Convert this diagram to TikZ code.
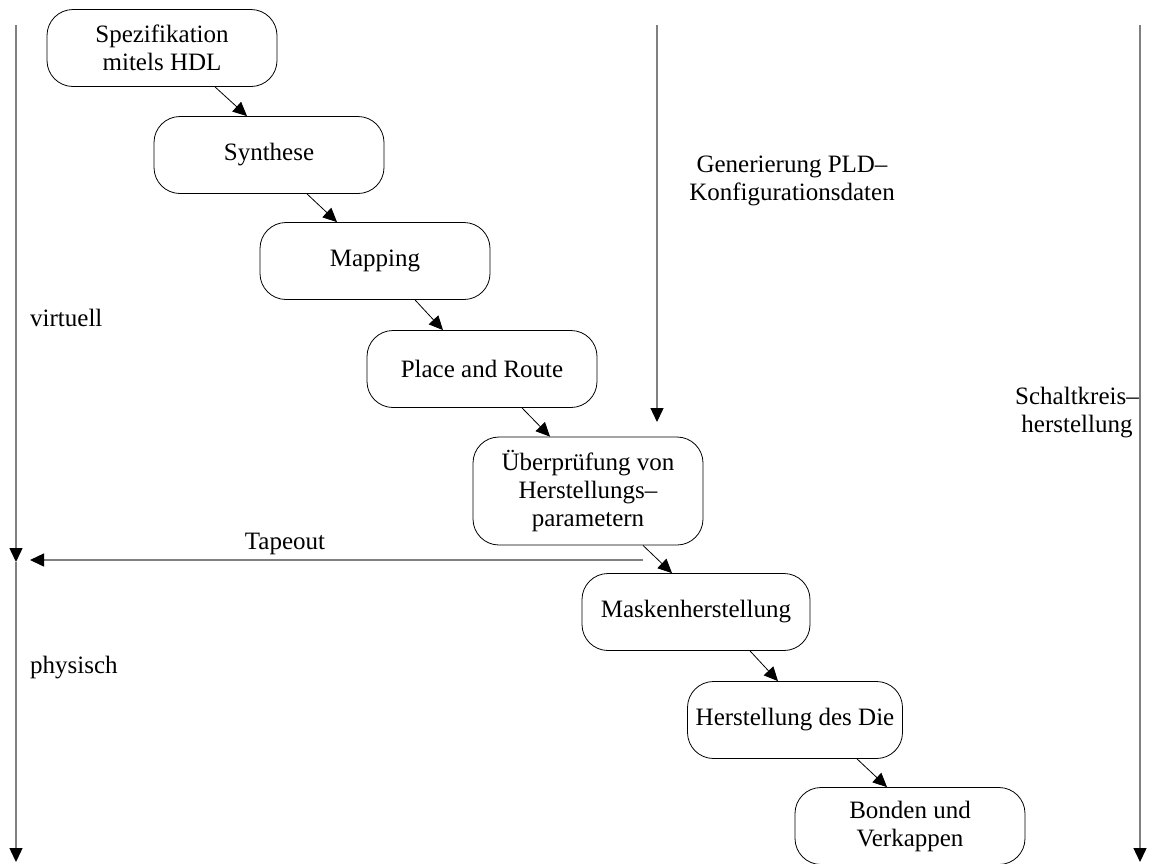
\documentclass[tikz,border=0pt]{standalone}
\usepackage{fontspec}
\setmainfont{Liberation Serif}
\usetikzlibrary{arrows.meta}
\begin{document}
\begin{tikzpicture}[x=1pt,y=-1pt,
  stage/.style={draw=black, line width=0.8pt, rounded corners=26pt,
    minimum width=230pt, minimum height=77pt, inner sep=0pt,
    align=center, font=\fontsize{25}{28}\selectfont},
  flow/.style={draw=black, line width=0.8pt,
    -{Triangle[length=14pt,width=13pt]}},
  phase/.style={draw=gray, line width=1.4pt,
    -{Triangle[length=14pt,width=13pt,color=black]}},
  lbl/.style={align=center, inner sep=0pt, font=\fontsize{25}{28}\selectfont}]
\useasboundingbox (0,0) rectangle (1155,863);

% design flow stages
\node[stage] (spec) at (162,48)  {Spezifikation\\mitels HDL};
\node[stage] (syn)  at (269,155) {Synthese};
\node[stage] (map)  at (375,261) {Mapping};
\node[stage] (par)  at (482,369) {Place and Route};
\node[stage, minimum height=108pt] (chk) at (588,491) {Überprüfung von\\Herstellungs–\\parametern};
\node[stage, minimum width=228pt] (mask) at (696,612) {Maskenherstellung};
\node[stage, minimum width=215pt] (die)  at (795,720) {Herstellung des Die};
\node[stage] (bond) at (910,826) {Bonden und\\Verkappen};

% flow between stages
\draw[flow] ([xshift=53pt]spec.south) -- ([xshift=-22pt]syn.north);
\draw[flow] ([xshift=38pt]syn.south)  -- ([xshift=-38pt]map.north);
\draw[flow] ([xshift=40pt]map.south)  -- ([xshift=-39pt]par.north);
\draw[flow] ([xshift=40pt]par.south)  -- ([xshift=-38pt]chk.north);
\draw[flow] ([xshift=55pt]chk.south)  -- ([xshift=-24pt]mask.north);
\draw[flow] ([xshift=54pt]mask.south) -- ([xshift=-17pt]die.north);
\draw[flow] ([xshift=62pt]die.south)  -- ([xshift=-23pt]bond.north);

% phase axes
\coordinate (L0) at (16,25);
\coordinate (L1) at (16,562);
\coordinate (L2) at (16,862);
\coordinate (M0) at (657,25);
\coordinate (M1) at (657,422);
\coordinate (R0) at (1140,25);
\coordinate (R1) at (1140,862);
\coordinate (T0) at (643,560);
\coordinate (T1) at (30,560);

\draw[phase] (L0) -- (L1);
\draw[phase] (L1) -- (L2);
\draw[phase] (M0) -- (M1);
\draw[phase] (R0) -- (R1);
\draw[phase] (T0) -- (T1);

% labels
\node[lbl, anchor=west] (virt) at (30,318) {virtuell};
\node[lbl, anchor=west] (phys) at (30,668) {physisch};
\node[lbl] (tape) at (285,544) {Tapeout};
\node[lbl] (gen) at (792,181) {Generierung PLD–\\Konfigurationsdaten};
\node[lbl] (ckt) at (1077,413) {Schaltkreis–\\herstellung};
\end{tikzpicture}
\end{document}
